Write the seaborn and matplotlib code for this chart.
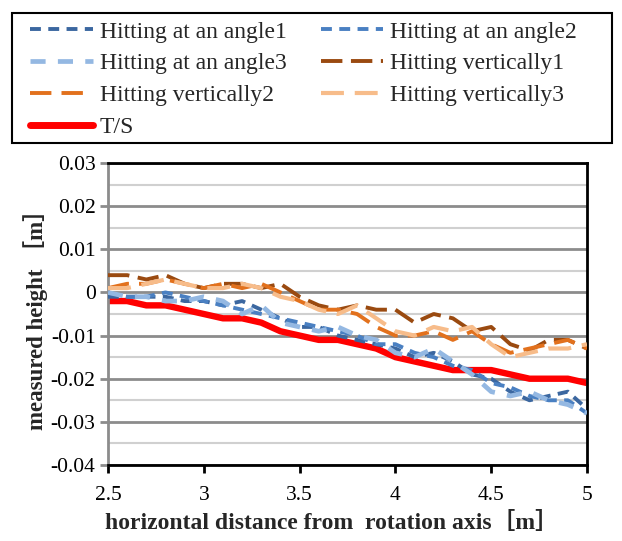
import numpy as np
import pandas as pd
import matplotlib
matplotlib.use("Agg")
import matplotlib.pyplot as plt
from matplotlib.ticker import MultipleLocator, FuncFormatter
from matplotlib.lines import Line2D
from matplotlib.patches import Rectangle
import seaborn as sns

# horizontal distance from the rotation axis [m]
distance = [2.5, 2.6, 2.7, 2.8, 2.9, 3.0, 3.1, 3.2, 3.3, 3.4, 3.5, 3.6, 3.7,
            3.8, 3.9, 4.0, 4.1, 4.2, 4.3, 4.4, 4.5, 4.6, 4.7, 4.8, 4.9, 5.0]

# measured heights [m]
angle1 = [-0.001, -0.001, -0.001, -0.001, -0.002, -0.002, -0.003, -0.002, -0.004,
          -0.006, -0.008, -0.008, -0.010, -0.011, -0.012, -0.013, -0.015, -0.014,
          -0.016, -0.019, -0.020, -0.023, -0.025, -0.024, -0.023, -0.027]
angle2 = [0.000, -0.001, -0.001, 0.000, -0.001, -0.002, -0.003, -0.004, -0.005,
          -0.006, -0.007, -0.008, -0.009, -0.010, -0.012, -0.012, -0.014, -0.015,
          -0.017, -0.018, -0.021, -0.022, -0.024, -0.025, -0.025, -0.028]
angle3 = [0.000, -0.001, -0.001, -0.002, -0.002, -0.001, -0.002, -0.005, -0.003,
          -0.007, -0.008, -0.009, -0.008, -0.010, -0.011, -0.014, -0.015, -0.013,
          -0.016, -0.019, -0.023, -0.024, -0.023, -0.025, -0.026, -0.028]
vertical1 = [0.004, 0.004, 0.003, 0.004, 0.002, 0.001, 0.002, 0.002, 0.001,
             0.002, -0.001, -0.003, -0.004, -0.003, -0.004, -0.004, -0.007, -0.005,
             -0.006, -0.009, -0.008, -0.012, -0.0135, -0.011, -0.011, -0.013]
vertical2 = [0.001, 0.002, 0.002, 0.003, 0.002, 0.001, 0.002, 0.001, 0.002,
             0.000, -0.002, -0.004, -0.004, -0.005, -0.008, -0.010, -0.010, -0.009,
             -0.011, -0.009, -0.012, -0.014, -0.013, -0.012, -0.011, -0.013]
vertical3 = [0.001, 0.001, 0.002, 0.003, 0.002, 0.001, 0.001, 0.002, 0.001,
             -0.001, -0.002, -0.004, -0.005, -0.003, -0.006, -0.009, -0.010, -0.008,
             -0.009, -0.008, -0.012, -0.015, -0.014, -0.013, -0.013, -0.012]
ts = [-0.002, -0.002, -0.003, -0.003, -0.004, -0.005, -0.006, -0.006, -0.007,
      -0.009, -0.010, -0.011, -0.011, -0.012, -0.013, -0.015, -0.016, -0.017,
      -0.018, -0.018, -0.018, -0.019, -0.020, -0.020, -0.020, -0.021]

series_names = ["Hitting at an angle1", "Hitting at an angle2", "Hitting at an angle3",
                "Hitting vertically1", "Hitting vertically2", "Hitting vertically3", "T/S"]
series_values = [angle1, angle2, angle3, vertical1, vertical2, vertical3, ts]

x_label = "horizontal distance from  rotation axis［m］"
y_label = "measured height ［m］"

sns.set_theme(style="white")
plt.rcParams["font.family"] = ["Liberation Serif", "Noto Sans CJK JP"]
plt.rcParams["axes.unicode_minus"] = False

styles = {
    "Hitting at an angle1": dict(color="#3B67A0", lw=2.8, dashes=(2.8, 1.9)),
    "Hitting at an angle2": dict(color="#4A80C2", lw=2.8, dashes=(2.8, 1.9)),
    "Hitting at an angle3": dict(color="#94B8E2", lw=3.4, dashes=(3.2, 2.6)),
    "Hitting vertically1": dict(color="#9A4A10", lw=2.8, dashes=(5.5, 2.2)),
    "Hitting vertically2": dict(color="#E2711D", lw=2.8, dashes=(5.5, 2.6)),
    "Hitting vertically3": dict(color="#F7BC8A", lw=3.0, dashes=(5.5, 2.6)),
    "T/S": dict(color="#FF0000", lw=4.6, dashes=None),
}

df = pd.DataFrame({"distance": np.tile(distance, len(series_names)),
                   "height": np.concatenate(series_values),
                   "series": np.repeat(series_names, len(distance))})

fig = plt.figure(figsize=(6.22, 5.41), dpi=100)
ax = fig.add_axes([108 / 622, 1 - 465 / 541, 479 / 622, 302 / 541])

for name in series_names:
    st = styles[name]
    sub = df[df["series"] == name]
    sns.lineplot(data=sub, x="distance", y="height", ax=ax, color=st["color"],
                 linewidth=st["lw"], legend=False, zorder=3 if name != "T/S" else 2)
    line = ax.lines[-1]
    if st["dashes"] is not None:
        line.set_dashes(st["dashes"])
    line.set_solid_capstyle("butt")
    line.set_dash_capstyle("butt")

ax.set_xlim(2.5, 5.0)
ax.set_ylim(-0.04, 0.03)
ax.xaxis.set_major_locator(MultipleLocator(0.5))
ax.yaxis.set_major_locator(MultipleLocator(0.01))
ax.yaxis.set_minor_locator(MultipleLocator(0.005))
fmt = FuncFormatter(lambda v, p: "0" if abs(v) < 1e-9 else f"{v:g}")
ax.xaxis.set_major_formatter(fmt)
ax.yaxis.set_major_formatter(fmt)

ax.grid(which="major", axis="y", color="#8C8C8C", linewidth=2.0, zorder=0)
ax.grid(which="minor", axis="y", color="#D0D0D0", linewidth=1.5, zorder=0)
ax.set_axisbelow(True)

for side in ["top", "right", "bottom"]:
    ax.spines[side].set_color("black")
    ax.spines[side].set_linewidth(2.0)
ax.spines["left"].set_color("#8C8C8C")
ax.spines["left"].set_linewidth(2.0)

ax.tick_params(axis="x", which="major", direction="out", length=6, width=2,
               color="black", labelsize=15.5, pad=9, bottom=True)
ax.tick_params(axis="y", which="major", direction="out", length=6, width=2,
               color="#8C8C8C", labelsize=15.5, pad=3, left=True)
ax.tick_params(axis="y", which="minor", left=False)
for lab in ax.get_xticklabels() + ax.get_yticklabels():
    lab.set_color("black")

ax.set_xlabel(x_label, fontsize=17, fontweight="bold")
ax.set_ylabel(y_label, fontsize=16.5, fontweight="bold")
ax.xaxis.set_label_coords(0.468, -0.157)
ax.yaxis.set_label_coords(-0.125, 0.5)

# legend in reading order, filled column by column
handles = {}
for name in series_names:
    st = styles[name]
    h = Line2D([], [], color=st["color"], linewidth=st["lw"] if name != "T/S" else 5.0)
    if st["dashes"] is not None:
        h.set_dashes(st["dashes"])
    h.set_dash_capstyle("butt")
    handles[name] = h
order = ["Hitting at an angle1", "Hitting at an angle3", "Hitting vertically2", "T/S",
         "Hitting at an angle2", "Hitting vertically1", "Hitting vertically3"]
leg = fig.legend([handles[n] for n in order], order, ncol=2, loc="upper left",
                 bbox_to_anchor=(30 / 622, 1 - 21 / 541),
                 frameon=False, fontsize=17,
                 handlelength=2.65, handletextpad=0.3, labelspacing=0.44,
                 borderpad=0, columnspacing=1.45, borderaxespad=0)

# box around the legend block
fig.add_artist(Rectangle((12 / 622, 1 - 143 / 541), 600 / 622, 130 / 541,
                         transform=fig.transFigure, fill=False,
                         edgecolor="black", linewidth=1.5))

fig.savefig("out.png", dpi=100, facecolor="white")
